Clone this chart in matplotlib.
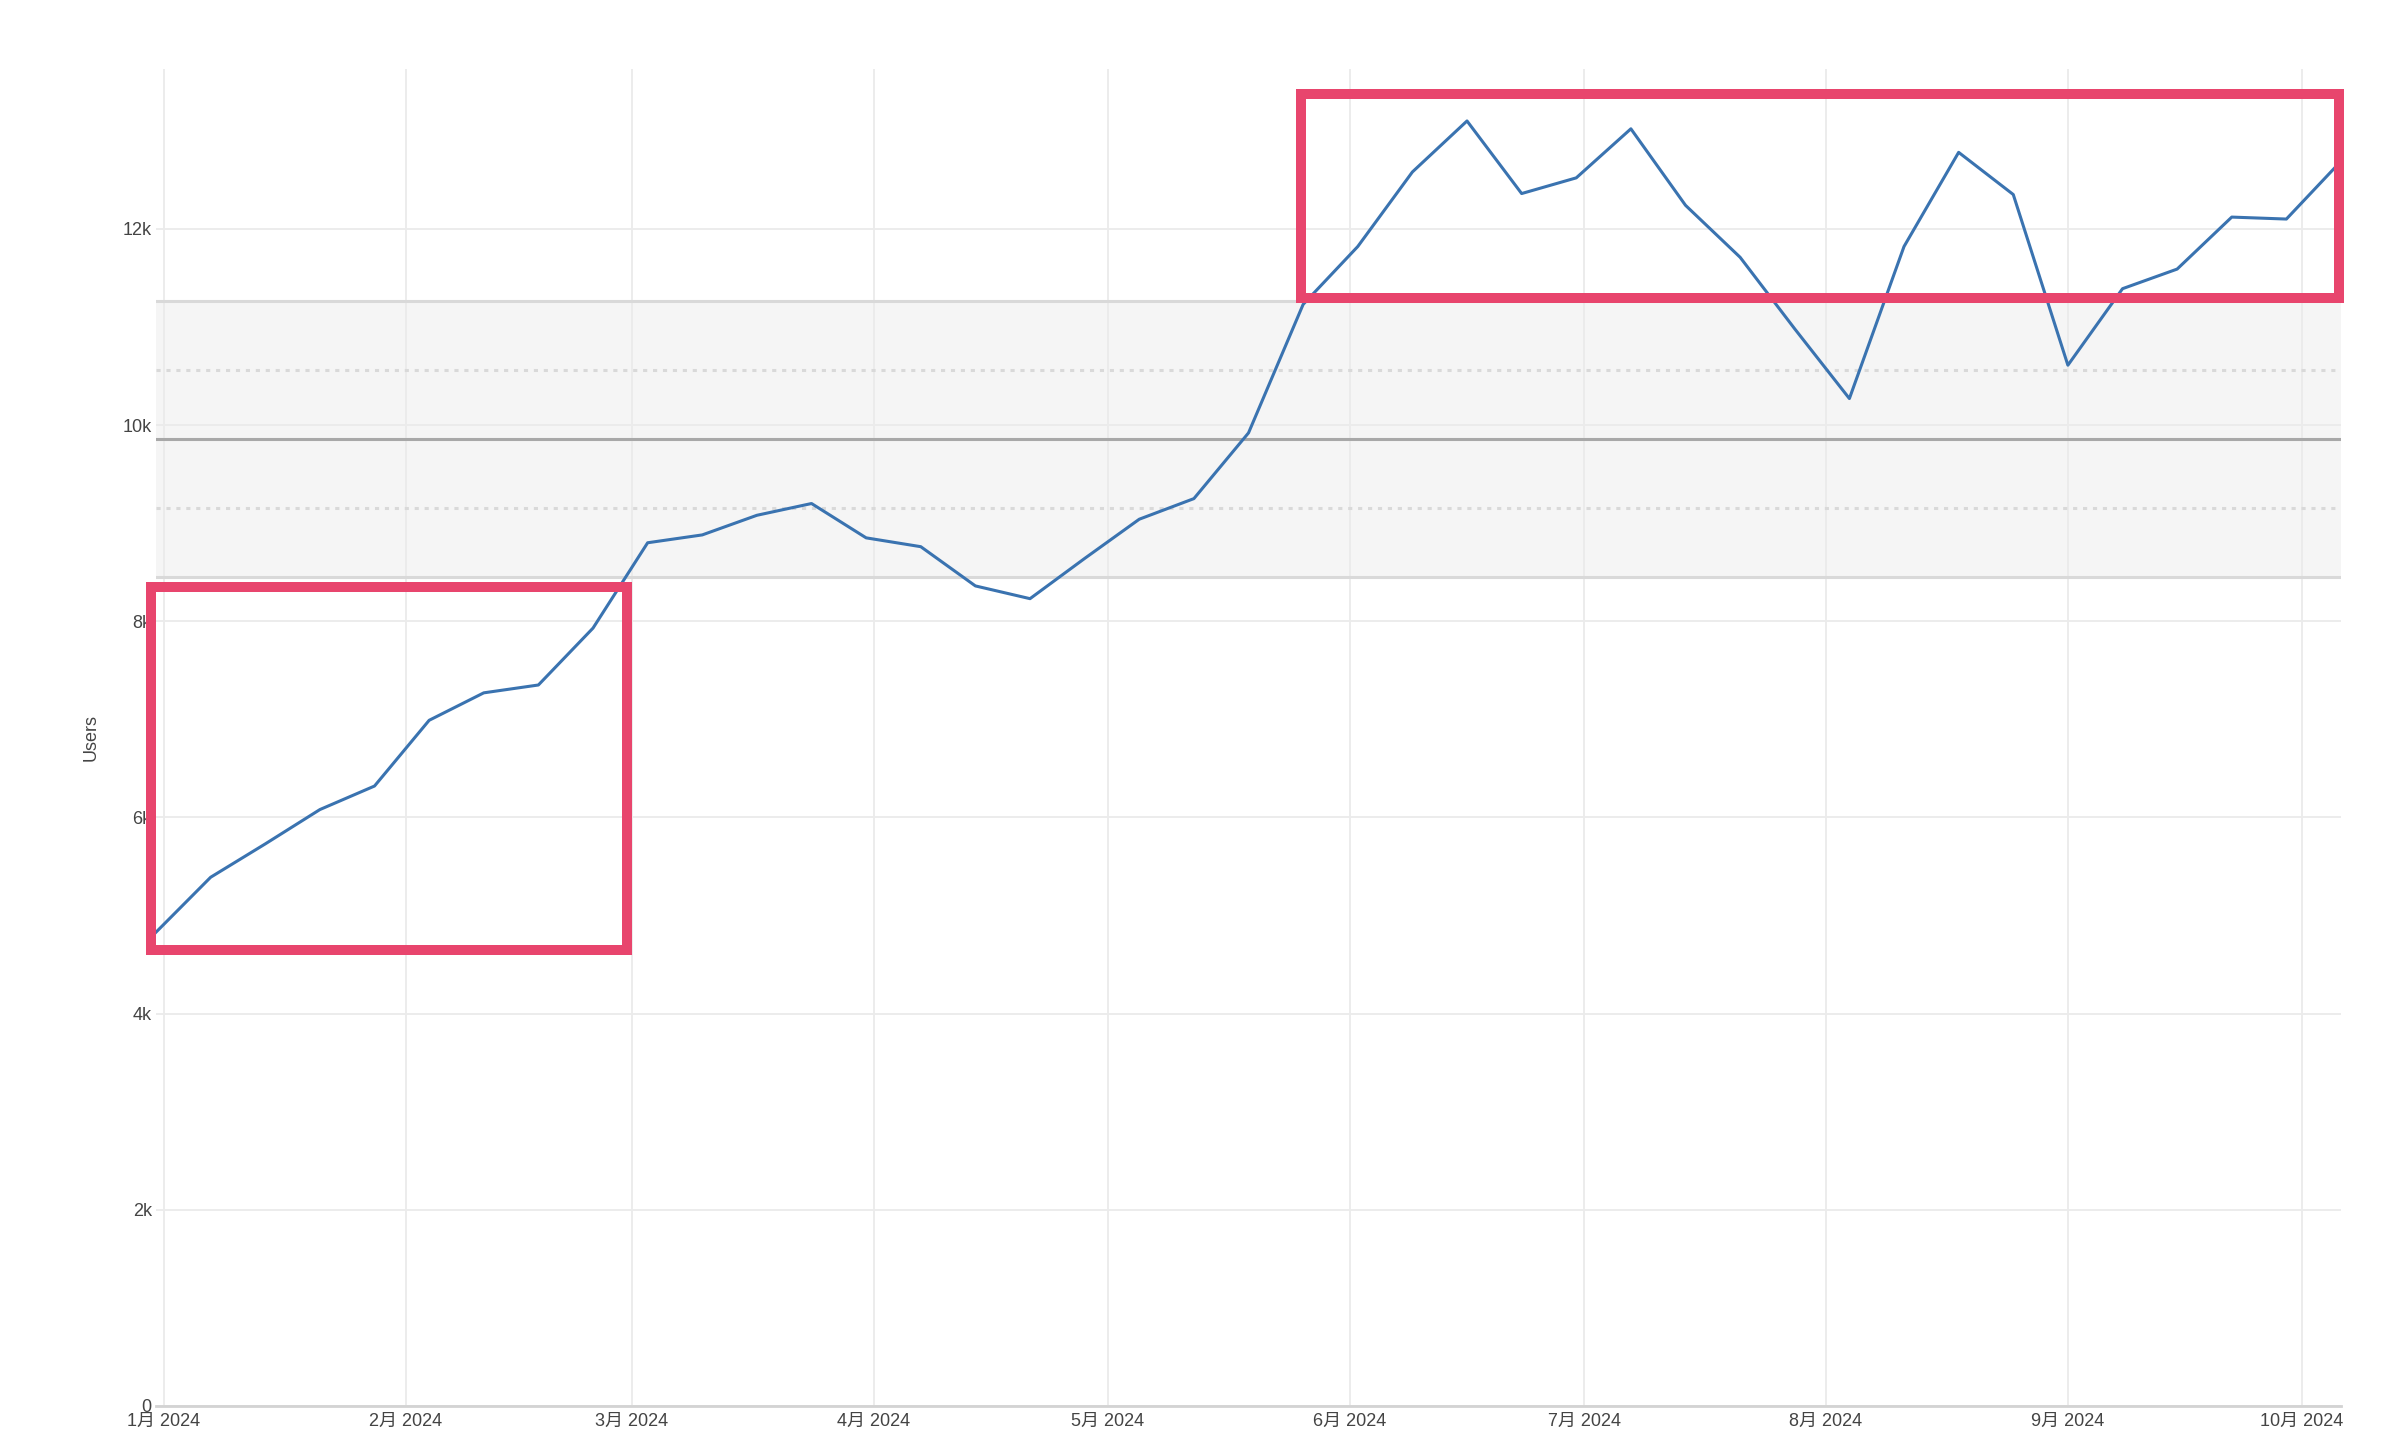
import matplotlib
matplotlib.use("Agg")
from matplotlib import pyplot as plt
from matplotlib import dates as mdates
from matplotlib.patches import Rectangle
import numpy as np
import pandas as pd

# weekly users (first week starts 2023-12-31)
week_start = "2023-12-31"
users = [4830, 5390, 5730, 6080, 6320, 6990, 7270, 7350, 7930, 8800,
         8880, 9080, 9200, 8850, 8760, 8360, 8230, 8640, 9040, 9250,
         9920, 11230, 11820, 12580, 13100, 12360, 12520, 13020, 12240, 11710,
         10980, 10270, 11820, 12780, 12350, 10610, 11390, 11590, 12120, 12100,
         12690]

month_ticks = ["2024-01-01", "2024-02-01", "2024-03-01", "2024-04-01", "2024-05-01",
               "2024-06-01", "2024-07-01", "2024-08-01", "2024-09-01", "2024-10-01"]
month_labels = ["1月 2024", "2月 2024", "3月 2024", "4月 2024", "5月 2024",
                "6月 2024", "7月 2024", "8月 2024", "9月 2024", "10月 2024"]
y_ticks = [0, 2000, 4000, 6000, 8000, 10000, 12000]
y_labels = ["0", "2k", "4k", "6k", "8k", "10k", "12k"]

# highlighted regions: (start date, end date, low, high)
highlights = [("2023-12-30 10:00", "2024-02-29 10:00", 4650, 8350),
              ("2024-05-25 17:00", "2024-10-05 19:00", 11300, 13370)]

plt.rcParams['font.family'] = ['Liberation Sans', 'Noto Sans CJK JP', 'DejaVu Sans']

dates = pd.date_range(week_start, periods=len(users), freq="7D")
x = mdates.date2num(dates.to_pydatetime())
y = np.array(users, dtype=float)

# XmR style limits
mean = y.mean()
mr = np.abs(np.diff(y)).mean()
ucl = mean + 2.66 * mr
lcl = mean - 2.66 * mr
u1 = mean + 1.33 * mr
l1 = mean - 1.33 * mr

fig = plt.figure(figsize=(24.04, 14.52), dpi=100)
ax = fig.add_axes([0.0649, 0.0317, 0.9089, 0.9208])

ax.axhspan(lcl, ucl, color="#f5f5f5", zorder=0.5, lw=0)
ax.axhline(ucl, color="#d9d9d9", lw=2.2, zorder=1)
ax.axhline(lcl, color="#d9d9d9", lw=2.2, zorder=1)
ax.axhline(mean, color="#a8a8a8", lw=2.2, zorder=1)
ax.axhline(u1, color="#d9d9d9", lw=2.2, ls=(0, (1.35, 1.9)), zorder=1)
ax.axhline(l1, color="#d9d9d9", lw=2.2, ls=(0, (1.35, 1.9)), zorder=1)

ax.plot(x, y, color="#3a73b0", lw=2.2, zorder=3)

for d0, d1, lo, hi in highlights:
    x0 = mdates.date2num(pd.Timestamp(d0))
    x1 = mdates.date2num(pd.Timestamp(d1))
    r = Rectangle((x0, lo), x1 - x0, hi - lo, fill=False, edgecolor="#e8456d",
                  lw=7.2, joinstyle="miter", clip_on=False, zorder=6)
    ax.add_patch(r)

ax.set_xlim(x[0], x[-1])
ax.set_ylim(0, 13630)

ax.set_xticks(mdates.date2num(pd.to_datetime(month_ticks).to_pydatetime()))
ax.set_xticklabels(month_labels)
ax.set_yticks(y_ticks)
ax.set_yticklabels(y_labels)
ax.tick_params(axis="both", length=0, labelsize=13, colors="#444444")
ax.tick_params(axis="x", pad=5)
ax.tick_params(axis="y", pad=3)

ax.grid(True, color="#ebebeb", lw=1.3, zorder=0)
ax.set_axisbelow(True)
for s in ["top", "right", "left"]:
    ax.spines[s].set_visible(False)
ax.spines["bottom"].set_color("#d3d3d3")
ax.spines["bottom"].set_linewidth(2)

ax.set_ylabel("Users", fontsize=13, color="#444444")
ax.yaxis.set_label_coords(-0.0257, 0.5)

fig.savefig("out.png", dpi=100, facecolor="white")
